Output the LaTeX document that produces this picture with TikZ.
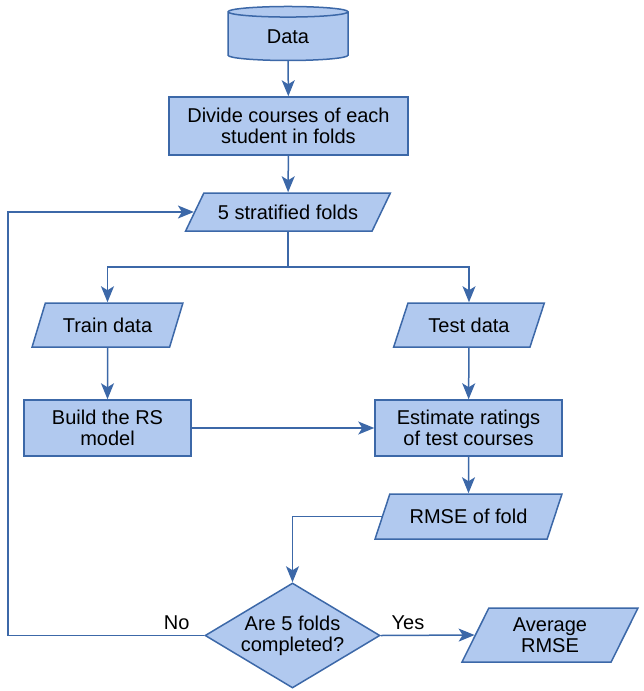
\documentclass[tikz,border=0pt]{standalone}
\usepackage{fontspec}
\setmainfont{Liberation Sans}
\usetikzlibrary{shapes.geometric,arrows.meta}
\definecolor{boxfill}{HTML}{B1C9EF}
\definecolor{boxline}{HTML}{3C68A8}

\begin{document}
\begin{tikzpicture}[x=1pt,y=-1pt]
    \tikzstyle{every node}=[font=\fontsize{20}{21}\selectfont, align=center]
    \tikzstyle{box}=[draw=boxline, fill=boxfill, line width=1.5pt, inner sep=0pt]
    \tikzstyle{proc}=[box, rectangle]
    \tikzstyle{io}=[box, trapezium, trapezium stretches=true]
    \tikzstyle{flow}=[draw=boxline, line width=1.5pt, -{Stealth[length=16pt,width=13pt,inset=4pt]}]
    \useasboundingbox (0,0) rectangle (643,691);
    % data and folds
    \node[box, cylinder, shape border rotate=90, aspect=0.25,
          minimum width=120pt, minimum height=54pt] (data) at (288,36.5) {Data};
    \node[proc, minimum width=239pt, minimum height=58pt] (divide) at (288.5,126)
        {Divide courses of each\\student in folds};
    \node[io, trapezium left angle=44, trapezium right angle=136,
          minimum width=205pt, minimum height=38pt] (folds) at (288,212) {5 stratified folds};
    \coordinate (split) at (288,267);
    % train / test
    \node[io, trapezium left angle=57, trapezium right angle=123,
          minimum width=151pt, minimum height=44pt] (train) at (107.5,325) {Train data};
    \node[io, trapezium left angle=57, trapezium right angle=123,
          minimum width=152pt, minimum height=44pt] (test) at (469,325) {Test data};
    \node[proc, minimum width=167pt, minimum height=56pt] (build) at (107.5,428)
        {Build the RS\\model};
    \node[proc, minimum width=187pt, minimum height=56pt] (estimate) at (468.5,428)
        {Estimate ratings\\of test courses};
    \node[io, trapezium left angle=53, trapezium right angle=127,
          minimum width=187pt, minimum height=45pt] (rmse) at (468.5,516.5) {RMSE of fold};
    % decision
    \node[box, diamond, aspect=1.67, minimum width=175pt, minimum height=105pt] (check)
        at (292.5,635.5) {Are 5 folds\\completed?};
    \node[io, trapezium left angle=65, trapezium right angle=115,
          minimum width=176pt, minimum height=54pt] (avg) at (550,635) {Average\\RMSE};
    \coordinate (loop) at (8,635.5);

    \draw[flow] (data) -- (divide);
    \draw[flow] (divide) -- (folds);
    \draw[draw=boxline, line width=1.5pt] (folds) -- (split);
    \draw[flow] (split) -| (train);
    \draw[flow] (split) -| (test);
    \draw[flow] (train) -- (build);
    \draw[flow] (test) -- (estimate);
    \draw[flow] (build) -- (estimate);
    \draw[flow] (estimate) -- (rmse);
    \draw[flow] (rmse.west) -| (check.north);
    \draw[flow] (check.west) -- node[pos=0.14, above=2pt] {No} (loop) |- (folds.west);
    \draw[flow] (check.east) -- node[pos=0.29, above=2pt] {Yes} (avg.west);
  \end{tikzpicture}
\end{document}
